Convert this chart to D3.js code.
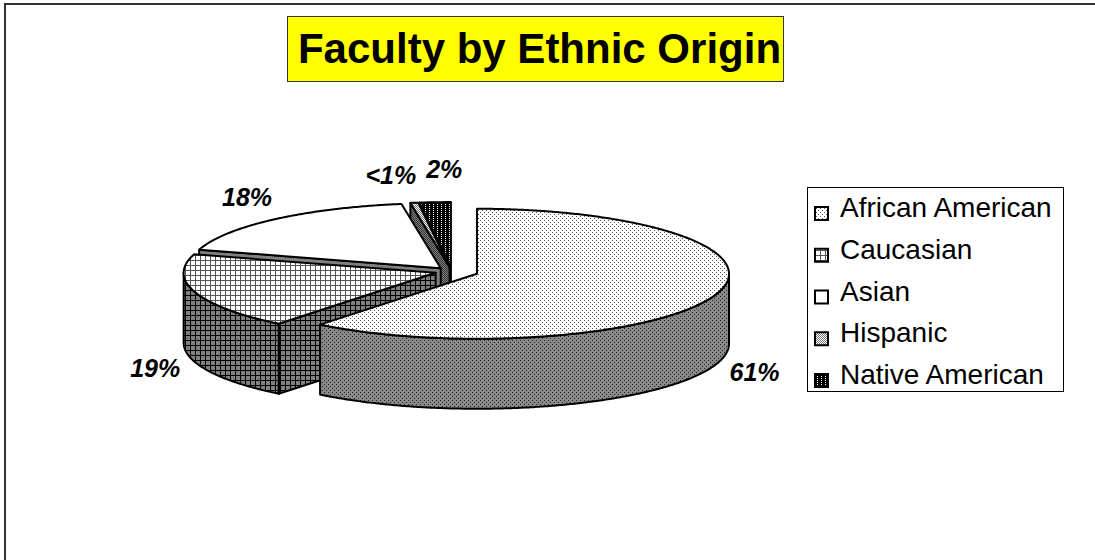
<!DOCTYPE html>
<html><head><meta charset="utf-8">
<script src="https://cdn.jsdelivr.net/npm/d3@7/dist/d3.min.js"></script>
<style>body{margin:0;background:#fff;} svg{display:block;}</style>
</head><body><svg id="c" width="1095" height="560"></svg>
<script>
// ---------- data ----------
const categories = ["African American", "Caucasian", "Asian", "Hispanic", "Native American"];
const values = [61, 19, 18, 0.5, 2];
const chartTitle = "Faculty by Ethnic Origin";

// ---------- layout / style ----------
const W = 1095, H = 560;
const P = {cx: 452, cy: 271.5, rx: 252, ry: 65, h: 70};
const explode = [0.105, 0.068, 0.068, 0.068, 0.068];
const patternIds = ["aa", "ca", "as", "hi", "na"];
const FONT = "'Liberation Sans', Arial, sans-serif";

const svg = d3.select("#c");
const defs = svg.append("defs");

function pat(id, size, bg, cells) {
  const p = defs.append("pattern").attr("id", id).attr("patternUnits", "userSpaceOnUse")
    .attr("width", size[0]).attr("height", size[1]);
  p.append("rect").attr("width", size[0]).attr("height", size[1]).attr("fill", bg);
  cells.forEach(c => p.append("rect").attr("x", c[0]).attr("y", c[1]).attr("width", c[2]).attr("height", c[3]).attr("fill", c[4]));
}
// African American
pat("aaTop", [4, 4], "#fff", [[0, 0, 1, 1, "#555"], [2, 2, 1, 1, "#555"]]);
pat("aaSide", [4, 4], "#8a8a8a", [[0, 0, 1, 1, "#222"], [2, 2, 1, 1, "#222"]]);
// Caucasian grid
pat("caTop", [5, 5], "#fff", [[0, 0, 5, 1, "#555"], [0, 0, 1, 5, "#555"]]);
pat("caSide", [5, 5], "#808080", [[0, 0, 5, 1, "#000"], [0, 0, 1, 5, "#000"]]);
// Asian
pat("asTop", [2, 2], "#fff", []);
pat("asSide", [2, 2], "#808080", []);
// Hispanic
pat("hiTop", [2, 2], "#fff", [[0, 0, 1, 1, "#777"], [1, 1, 1, 1, "#777"]]);
pat("hiSide", [2, 2], "#808080", [[0, 0, 1, 1, "#333"], [1, 1, 1, 1, "#333"]]);
// Native American
pat("naTop", [4, 2], "#000", [[1, 0, 1, 1, "#fff"]]);
pat("naSide", [4, 2], "#000", [[1, 0, 1, 1, "#888"]]);

// outer frame
svg.append("rect").attr("x", 5).attr("y", 4).attr("width", W + 50).attr("height", H + 50)
  .attr("fill", "none").attr("stroke", "#333").attr("stroke-width", 2);

// ---------- pie geometry ----------
const total = d3.sum(values);
const arcs = d3.pie().sort(null).startAngle(0).endAngle(2 * Math.PI)(values);

const slices = arcs.map((a, i) => {
  const mid = (a.startAngle + a.endAngle) / 2;
  const c = {x: P.cx + explode[i] * P.rx * Math.sin(mid), y: P.cy - explode[i] * P.ry * Math.cos(mid)};
  return {i, a0: a.startAngle, a1: a.endAngle, mid, c, id: patternIds[i]};
});

const pt = (c, a, dy = 0) => [c.x + P.rx * Math.sin(a), c.y - P.ry * Math.cos(a) + dy];
function arcPts(c, a0, a1, dy) {
  const n = Math.max(2, Math.ceil(Math.abs(a1 - a0) / (Math.PI / 360)));
  return d3.range(n + 1).map(k => pt(c, a0 + (a1 - a0) * k / n, dy));
}
const line = d3.line().curve(d3.curveLinearClosed);

const g = svg.append("g").attr("stroke", "#000").attr("stroke-width", 2).attr("stroke-linejoin", "round");

// radial walls (visible ones only)
const walls = [];
slices.forEach(s => {
  [[s.a0, s.a0 - Math.PI / 2], [s.a1, s.a1 + Math.PI / 2]].forEach(([a, nrm]) => {
    if (Math.cos(nrm) < -1e-6) {
      const p = pt(s.c, a);
      walls.push({s, pts: [[s.c.x, s.c.y], p, [p[0], p[1] + P.h], [s.c.x, s.c.y + P.h]], depth: (s.c.y + p[1]) / 2});
    }
  });
});
walls.sort((a, b) => a.depth - b.depth);
g.selectAll("path.wall").data(walls).join("path").attr("class", "wall")
  .attr("d", d => line(d.pts)).attr("fill", d => `url(#${d.s.id}Side)`);

// outer walls (front half)
const outer = [];
slices.forEach(s => {
  const lo = Math.max(s.a0, Math.PI / 2), hi = Math.min(s.a1, 3 * Math.PI / 2);
  if (hi > lo) outer.push({s, pts: arcPts(s.c, lo, hi, 0).concat(arcPts(s.c, hi, lo, P.h))});
});
g.selectAll("path.outer").data(outer).join("path").attr("class", "outer")
  .attr("d", d => line(d.pts)).attr("fill", d => `url(#${d.s.id}Side)`);

// tops
const topOrder = [2, 4, 3, 1, 0];
g.selectAll("path.top").data(topOrder.map(k => slices[k])).join("path").attr("class", "top")
  .attr("d", s => line([[s.c.x, s.c.y]].concat(arcPts(s.c, s.a0, s.a1, 0))))
  .attr("fill", s => `url(#${s.id}Top)`);

// ---------- data labels ----------
const fmt = v => { const p = v / total * 100; return p < 1 ? "<1%" : Math.round(p) + "%"; };
const LB = {a: 42, b: 30, front: 0.95 * P.h, size: 25, gap: 10};
const labs = slices.map(s => {
  const r = pt(s.c, s.mid);
  let x = r[0] + LB.a * Math.sin(s.mid), y = r[1] - LB.b * Math.cos(s.mid);
  if (Math.cos(s.mid) < 0) y += LB.front;
  return {x, y, text: fmt(values[s.i])};
});
const lt = svg.append("g").selectAll("text").data(labs).join("text")
  .attr("font-family", FONT).attr("font-size", LB.size).attr("font-weight", "bold").attr("font-style", "italic")
  .attr("text-anchor", "middle").text(d => d.text);
lt.each(function (d) { d.w = this.getComputedTextLength(); });
// resolve overlaps between neighbouring labels
for (let it = 0; it < 5; it++) {
  const sorted = labs.slice().sort((a, b) => a.x - b.x);
  for (let k = 1; k < sorted.length; k++) {
    const A = sorted[k - 1], B = sorted[k];
    if (Math.abs(A.y - B.y) < LB.size) {
      const need = (A.w + B.w) / 2 + LB.gap - (B.x - A.x);
      if (need > 0) { A.x -= need * 0.6; B.x += need * 0.4; A.y += 2; B.y -= 3; }
    }
  }
}
lt.attr("x", d => d.x).attr("y", d => d.y + 9);

// ---------- title ----------
const tg = svg.append("g");
tg.append("rect").attr("x", 287.5).attr("y", 16.5).attr("width", 496).attr("height", 65)
  .attr("fill", "#ffff00").attr("stroke", "#333").attr("stroke-width", 1);
tg.append("text").attr("x", 539.5).attr("y", 63).attr("text-anchor", "middle")
  .attr("font-family", FONT).attr("font-size", 42).attr("font-weight", "bold").text(chartTitle);

// ---------- legend ----------
const L = {x: 807.5, y: 187.5, w: 256, h: 204, sym: 14, textX: 840, size: 28};
const lg = svg.append("g");
lg.append("rect").attr("x", L.x).attr("y", L.y).attr("width", L.w).attr("height", L.h)
  .attr("fill", "#fff").attr("stroke", "#000").attr("stroke-width", 1);
const ly = d3.scalePoint().domain(categories).range([217, 384]);
const items = lg.selectAll("g.item").data(categories).join("g").attr("class", "item");
items.append("rect").attr("x", 815).attr("y", d => ly(d) - 10).attr("width", L.sym - 1).attr("height", L.sym - 1)
  .attr("fill", (d, i) => `url(#${patternIds[i]}Top)`).attr("stroke", "#000").attr("stroke-width", 2);
items.append("text").attr("x", L.textX).attr("y", d => ly(d))
  .attr("font-family", FONT).attr("font-size", L.size).text(d => d);
</script></body></html>
